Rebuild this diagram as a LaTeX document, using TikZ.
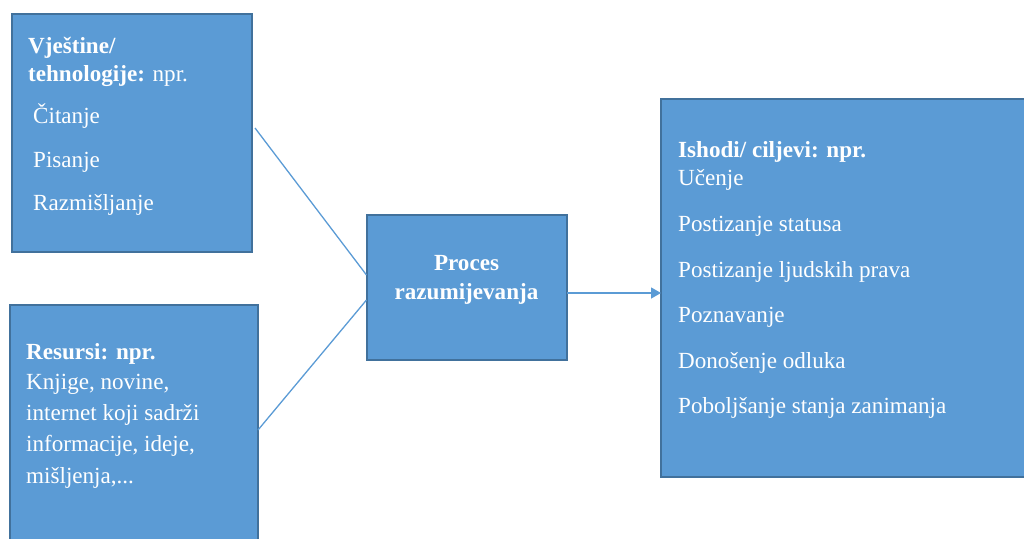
\documentclass[tikz,border=0pt]{standalone}
\usepackage{fontspec}
\setmainfont{Liberation Serif}
\usetikzlibrary{arrows.meta}
\definecolor{boxfill}{HTML}{5B9BD5}
\definecolor{boxline}{HTML}{41719C}
\definecolor{conn}{HTML}{5B9BD5}
\begin{document}
\begin{tikzpicture}[x=1pt,y=-1pt,
  box/.style={draw=boxline, fill=boxfill, line width=2pt, inner sep=0pt, outer sep=0pt, anchor=north west},
  txt/.style={text=white, anchor=base west, inner sep=0pt, font=\fontsize{23.1}{28}\selectfont},
  ctxt/.style={text=white, anchor=base, inner sep=0pt, font=\fontsize{23.1}{28}\selectfont\bfseries},
  connector/.style={draw=conn, line width=1.3pt}]
\useasboundingbox (0,0) rectangle (1024,538);
\clip (0,0) rectangle (1024,538);
% boxes
\node[box, minimum width=240pt, minimum height=238pt] (b1) at (12,14) {};
\node[box, minimum width=248.5pt, minimum height=240pt] (b2) at (9.5,305) {};
\node[box, minimum width=200.5pt, minimum height=145pt] (c) at (366.5,215) {};
\node[box, minimum width=374pt, minimum height=378pt] (r) at (661,99) {};
% box 1 text
\node[txt] (t1a) at (28,53) {\textbf{Vještine/}};
\node[txt] (t1b) at (28,81) {\textbf{tehnologije:} npr.};
\node[txt] (t1c) at (33,123) {Čitanje};
\node[txt] (t1d) at (33,167) {Pisanje};
\node[txt] (t1e) at (33,210) {Razmišljanje};
% box 2 text
\node[txt] (t2a) at (26,359) {\textbf{Resursi: npr.}};
\node[txt] (t2b) at (26,389.5) {Knjige, novine,};
\node[txt] (t2c) at (26,420.5) {internet koji sadrži};
\node[txt] (t2d) at (26,451) {informacije, ideje,};
\node[txt] (t2e) at (26,483) {mišljenja,...};
% centre text
\node[ctxt] (tc1) at (466.5,270.5) {Proces};
\node[ctxt] (tc2) at (466.5,299.5) {razumijevanja};
% right box text
\node[txt] (tr1) at (678,157) {\textbf{Ishodi/ ciljevi: npr.}};
\node[txt] (tr2) at (678,185.5) {Učenje};
\node[txt] (tr3) at (678,231) {Postizanje statusa};
\node[txt] (tr4) at (678,277) {Postizanje ljudskih prava};
\node[txt] (tr5) at (678,322) {Poznavanje};
\node[txt] (tr6) at (678,368) {Donošenje odluka};
\node[txt] (tr7) at (678,413) {Poboljšanje stanja zanimanja};
% connectors
\coordinate (u1) at ([xshift=3pt,yshift=5pt]b1.east);
\coordinate (u2) at ([yshift=12.5pt]c.west);
\coordinate (l1) at ([yshift=-5pt]b2.east);
\coordinate (l2) at ([yshift=-12.5pt]c.west);
\coordinate (a1) at ([yshift=-5.5pt]c.east);
\coordinate (a2) at (a1 -| r.west);
\draw[connector] (u1) -- (u2);
\draw[connector] (l1) -- (l2);
\draw[connector, -{Triangle[length=10pt,width=11pt]}] (a1) -- (a2);
\end{tikzpicture}
\end{document}
